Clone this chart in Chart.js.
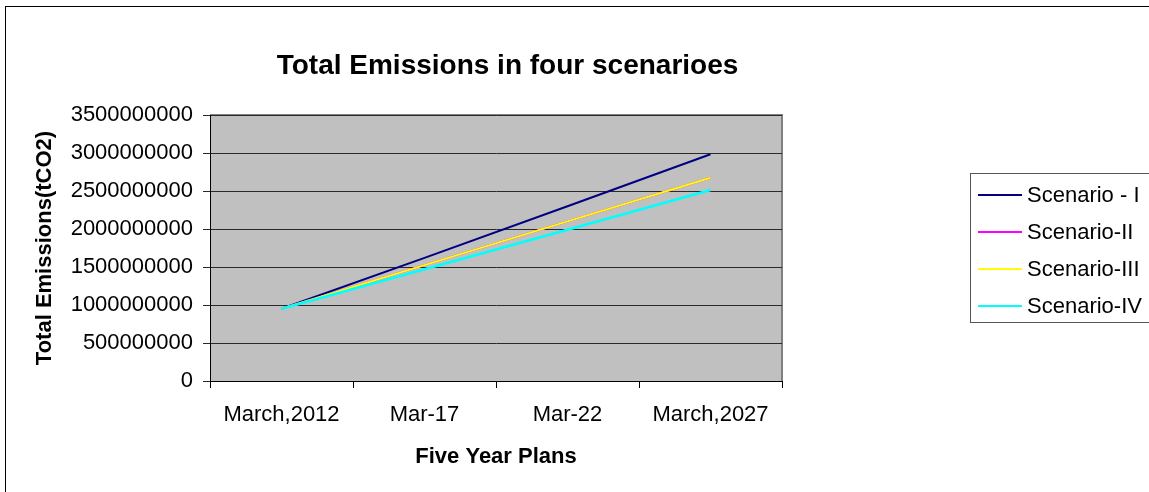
<!DOCTYPE html>
<html>
<head>
<meta charset="utf-8">
<script src="https://cdn.jsdelivr.net/npm/chart.js@4/dist/chart.umd.min.js"></script>
<style>
html,body{margin:0;padding:0;background:#fff;}
#wrap{width:1149px;height:492px;position:relative;}
</style>
</head>
<body>
<div id="wrap"><canvas id="c" width="1149" height="492"></canvas></div>
<script>
const categories = ['March,2012', 'Mar-17', 'Mar-22', 'March,2027'];
const seriesNames = ['Scenario - I', 'Scenario-II', 'Scenario-III', 'Scenario-IV'];
const scenarioI   = [951000000, 1620000000, 2300000000, 2983000000];
const scenarioII  = [951000000, 1525000000, 2100000000, 2675000000];
const scenarioIII = [951000000, 1525000000, 2100000000, 2675000000];
const scenarioIV  = [951000000, 1470000000, 1990000000, 2513000000];
const yTicks = [0, 500000000, 1000000000, 1500000000, 2000000000, 2500000000, 3000000000, 3500000000];
const chartTitle = 'Total Emissions in four scenarioes';

const FONT = '"Liberation Sans", Arial, sans-serif';
const colors = ['#000080', '#FF00FF', '#FFFF00', '#00FFFF'];
const widths = [2, 2, 2, 2.5];
const values = [scenarioI, scenarioII, scenarioIII, scenarioIV];

const bgPlugin = {
  id: 'bgPlugin',
  beforeDraw(chart) {
    const ctx = chart.ctx, a = chart.chartArea;
    ctx.save();
    ctx.strokeStyle = '#000';
    ctx.lineWidth = 1;
    ctx.strokeRect(5.5, 6.5, 1300, 700);
    ctx.fillStyle = '#C0C0C0';
    ctx.fillRect(a.left, a.top, a.right - a.left, a.bottom - a.top);
    ctx.strokeStyle = '#808080';
    ctx.lineWidth = 2;
    ctx.beginPath();
    ctx.moveTo(a.left, a.top);
    ctx.lineTo(a.right, a.top);
    ctx.lineTo(a.right, a.bottom);
    ctx.stroke();
    ctx.fillStyle = '#000';
    ctx.font = 'bold 28px ' + FONT;
    ctx.textAlign = 'center';
    ctx.textBaseline = 'alphabetic';
    ctx.fillText(chartTitle, 507.5, 73.5);
    ctx.restore();
  },
  afterDraw(chart) {
    const ctx = chart.ctx;
    ctx.save();
    ctx.strokeStyle = '#555';
    ctx.lineWidth = 1;
    ctx.strokeRect(970.5, 173.5, 300, 149);
    ctx.font = '22px ' + FONT;
    ctx.textBaseline = 'middle';
    ctx.textAlign = 'left';
    chart.data.datasets.forEach((ds, i) => {
      const y = 195 + i * 37;
      ctx.strokeStyle = ds.borderColor;
      ctx.lineWidth = 2;
      ctx.beginPath();
      ctx.moveTo(978, y);
      ctx.lineTo(1022, y);
      ctx.stroke();
      ctx.fillStyle = '#000';
      ctx.fillText(ds.label, 1027, y + 1);
    });
    ctx.restore();
  }
};

new Chart(document.getElementById('c'), {
  type: 'line',
  data: {
    labels: categories,
    datasets: seriesNames.map((name, i) => ({
      label: name,
      data: values[i],
      borderColor: colors[i],
      backgroundColor: colors[i],
      borderWidth: widths[i],
      pointRadius: 0,
      tension: 0,
      fill: false,
      order: 3 - i
    }))
  },
  options: {
    responsive: false,
    animation: false,
    layout: { padding: { left: 0, right: 367, top: 115, bottom: 0 } },
    plugins: {
      legend: { display: false },
      tooltip: { enabled: false },
      title: { display: false }
    },
    scales: {
      x: {
        offset: true,
        grid: { offset: true, drawOnChartArea: false, drawTicks: true, tickLength: 7, color: '#000' },
        border: { color: '#000', width: 1 },
        ticks: { color: '#000', font: { family: FONT, size: 22 }, padding: 14, maxRotation: 0, autoSkip: false },
        title: { display: true, text: 'Five Year Plans', color: '#000', font: { family: FONT, size: 22, weight: 'bold' }, padding: { top: 0, bottom: 22 } },
        afterFit(scale) { scale.height = 111; }
      },
      y: {
        min: 0,
        max: 3500000000,
        afterBuildTicks(scale) { scale.ticks = yTicks.map(v => ({ value: v })); },
        grid: { color: '#2a2a2a', lineWidth: 1, drawTicks: true, tickLength: 7 },
        border: { color: '#000', width: 1 },
        ticks: { color: '#000', font: { family: FONT, size: 22 }, padding: 10, callback: v => String(v) },
        title: { display: true, text: 'Total Emissions(tCO2)', color: '#000', font: { family: FONT, size: 22, weight: 'bold' }, padding: { top: 32, bottom: 0 } },
        afterFit(scale) { scale.width = 210; }
      }
    }
  },
  plugins: [bgPlugin]
});
</script>
</body>
</html>
